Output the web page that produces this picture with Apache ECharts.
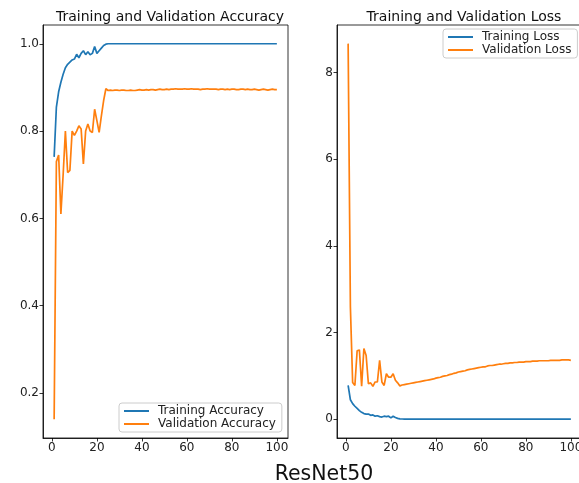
<!DOCTYPE html>
<html>
<head>
<meta charset="utf-8">
<script src="https://cdn.jsdelivr.net/npm/echarts@6/dist/echarts.min.js"></script>
<style>
  html, body { margin: 0; padding: 0; background: #fff; }
  #main { width: 579px; height: 483px; }
</style>
</head>
<body>
<div id="main"></div>
<script>
// values, one per epoch (1..100)
var trainAcc = [0.741, 0.855, 0.89, 0.912, 0.93, 0.945, 0.953, 0.958, 0.963, 0.965,
    0.976, 0.968, 0.978, 0.984, 0.975, 0.982, 0.975, 0.978, 0.994, 0.978,
    0.984, 0.99, 0.996, 0.999, 1.0, 1.0, 1.0, 1.0, 1.0, 1.0,
    1.0, 1.0, 1.0, 1.0, 1.0, 1.0, 1.0, 1.0, 1.0, 1.0,
    1.0, 1.0, 1.0, 1.0, 1.0, 1.0, 1.0, 1.0, 1.0, 1.0,
    1.0, 1.0, 1.0, 1.0, 1.0, 1.0, 1.0, 1.0, 1.0, 1.0,
    1.0, 1.0, 1.0, 1.0, 1.0, 1.0, 1.0, 1.0, 1.0, 1.0,
    1.0, 1.0, 1.0, 1.0, 1.0, 1.0, 1.0, 1.0, 1.0, 1.0,
    1.0, 1.0, 1.0, 1.0, 1.0, 1.0, 1.0, 1.0, 1.0, 1.0,
    1.0, 1.0, 1.0, 1.0, 1.0, 1.0, 1.0, 1.0, 1.0, 1.0];

var valAcc = [0.14, 0.73, 0.745, 0.61, 0.70, 0.80, 0.705, 0.71, 0.80, 0.79,
    0.80, 0.812, 0.805, 0.725, 0.80, 0.816, 0.80, 0.797, 0.85, 0.824,
    0.797, 0.835, 0.87, 0.897, 0.893, 0.894, 0.893, 0.894, 0.894, 0.893,
    0.894, 0.894, 0.893, 0.893, 0.894, 0.893, 0.893, 0.894, 0.895, 0.894,
    0.894, 0.895, 0.894, 0.895, 0.895, 0.894, 0.895, 0.896, 0.895, 0.895,
    0.896, 0.895, 0.896, 0.896, 0.897, 0.896, 0.896, 0.896, 0.897, 0.896,
    0.896, 0.897, 0.896, 0.896, 0.896, 0.895, 0.896, 0.896, 0.897, 0.896,
    0.896, 0.896, 0.896, 0.895, 0.896, 0.896, 0.895, 0.896, 0.895, 0.896,
    0.896, 0.895, 0.895, 0.896, 0.896, 0.895, 0.896, 0.895, 0.895, 0.896,
    0.895, 0.894, 0.895, 0.896, 0.895, 0.894, 0.895, 0.896, 0.895, 0.895];

var trainLoss = [0.78, 0.45, 0.36, 0.30, 0.25, 0.20, 0.16, 0.13, 0.12, 0.12,
    0.09, 0.10, 0.07, 0.08, 0.06, 0.05, 0.07, 0.06, 0.07, 0.03,
    0.07, 0.04, 0.02, 0.008, 0.005, 0.004, 0.004, 0.003, 0.003, 0.003,
    0.003, 0.002, 0.002, 0.002, 0.002, 0.002, 0.002, 0.002, 0.002, 0.002,
    0.002, 0.002, 0.001, 0.001, 0.001, 0.001, 0.001, 0.001, 0.001, 0.001,
    0.001, 0.001, 0.001, 0.001, 0.001, 0.001, 0.001, 0.001, 0.001, 0.001,
    0.001, 0.001, 0.001, 0.001, 0.001, 0.001, 0.001, 0.001, 0.001, 0.001,
    0.001, 0.001, 0.001, 0.001, 0.001, 0.001, 0.001, 0.001, 0.001, 0.001,
    0.001, 0.001, 0.001, 0.001, 0.001, 0.001, 0.001, 0.001, 0.001, 0.001,
    0.001, 0.001, 0.001, 0.001, 0.001, 0.001, 0.001, 0.001, 0.001, 0.001];

var valLoss = [8.67, 2.6, 0.85, 0.78, 1.58, 1.6, 0.76, 1.63, 1.47, 0.82,
    0.84, 0.76, 0.86, 0.86, 1.36, 0.86, 0.78, 1.05, 0.97, 0.97,
    1.05, 0.90, 0.84, 0.77, 0.79, 0.80, 0.81, 0.82, 0.83, 0.84,
    0.85, 0.86, 0.87, 0.88, 0.89, 0.90, 0.91, 0.92, 0.93, 0.95,
    0.96, 0.97, 0.99, 1.00, 1.01, 1.03, 1.04, 1.06, 1.07, 1.09,
    1.10, 1.11, 1.12, 1.14, 1.15, 1.16, 1.17, 1.18, 1.19, 1.20,
    1.21, 1.21, 1.23, 1.24, 1.24, 1.25, 1.26, 1.27, 1.27, 1.28,
    1.29, 1.29, 1.30, 1.30, 1.31, 1.31, 1.32, 1.32, 1.32, 1.33,
    1.33, 1.33, 1.34, 1.34, 1.34, 1.35, 1.35, 1.35, 1.35, 1.35,
    1.36, 1.36, 1.36, 1.36, 1.36, 1.37, 1.37, 1.37, 1.37, 1.36];

var xTicks = [0, 20, 40, 60, 80, 100];
var accTicks = [0.2, 0.4, 0.6, 0.8, 1.0];
var lossTicks = [0, 2, 4, 6, 8];

function pairs(arr) {
    return arr.map(function (v, i) { return [i + 1, v]; });
}

var font = 'DejaVu Sans';
var blue = '#1f77b4', orange = '#ff7f0e';

function xAxisCfg(grid) {
    return {
        type: 'value', gridIndex: grid, min: -3.95, max: 104.95,
        splitLine: { show: false },
        axisLine: { show: true, onZero: false, lineStyle: { color: '#000', width: 0.8 } },
        axisTick: { show: true, inside: false, customValues: xTicks, length: 3.5, lineStyle: { color: '#000', width: 0.8 } },
        axisLabel: { customValues: xTicks, margin: 4, fontFamily: font, fontSize: 12, color: '#222' }
    };
}

function yAxisCfg(grid, min, max, ticks, digits) {
    return {
        type: 'value', gridIndex: grid, min: min, max: max,
        splitLine: { show: false },
        axisLine: { show: true, onZero: false, lineStyle: { color: '#000', width: 0.8 } },
        axisTick: { show: true, inside: false, customValues: ticks, length: 3.5, lineStyle: { color: '#000', width: 0.8 } },
        axisLabel: {
            customValues: ticks, margin: 4, fontFamily: font, fontSize: 12, color: '#222',
            formatter: function (v) { return v.toFixed(digits); }
        }
    };
}

function legendCfg(names, left, top) {
    return {
        data: names, orient: 'vertical', left: left, top: top,
        icon: 'rect', itemWidth: 25, itemHeight: 2, itemGap: 1,
        padding: [2, 6, 2, 5],
        backgroundColor: 'rgba(255,255,255,0.8)',
        borderColor: '#cccccc', borderWidth: 1, borderRadius: 3,
        textStyle: { fontFamily: font, fontSize: 12, color: '#222', padding: [0, 0, 0, 4] }
    };
}

function lineSeries(name, arr, color, idx) {
    return {
        name: name, type: 'line', data: pairs(arr),
        xAxisIndex: idx, yAxisIndex: idx,
        showSymbol: false, symbol: 'none',
        itemStyle: { color: color },
        lineStyle: { color: color, width: 1.7 }
    };
}

var myChart = echarts.init(document.getElementById('main'));

var option = {
    animation: false,
    title: [
        { text: 'Training and Validation Accuracy', left: 165, top: 5, textAlign: 'center',
          textStyle: { fontFamily: font, fontSize: 14, fontWeight: 'normal', color: '#111' } },
        { text: 'Training and Validation Loss', left: 459, top: 5, textAlign: 'center',
          textStyle: { fontFamily: font, fontSize: 14, fontWeight: 'normal', color: '#111' } },
        { text: 'ResNet50', left: 319, top: 459, textAlign: 'center',
          textStyle: { fontFamily: font, fontSize: 20.5, fontWeight: 'normal', color: '#111' } }
    ],
    legend: [
        legendCfg(['Training Accuracy', 'Validation Accuracy'], 119, 403),
        legendCfg(['Training Loss', 'Validation Loss'], 443, 29)
    ],
    grid: [
        { left: 43, top: 25, width: 245, height: 413, show: true, borderColor: '#000', borderWidth: 0.8, outerBoundsMode: 'none' },
        { left: 337, top: 25, width: 245, height: 413, show: true, borderColor: '#000', borderWidth: 0.8, outerBoundsMode: 'none' }
    ],
    xAxis: [xAxisCfg(0), xAxisCfg(1)],
    yAxis: [
        yAxisCfg(0, 0.097, 1.043, accTicks, 1),
        yAxisCfg(1, -0.433, 9.10, lossTicks, 0)
    ],
    series: [
        lineSeries('Training Accuracy', trainAcc, blue, 0),
        lineSeries('Validation Accuracy', valAcc, orange, 0),
        lineSeries('Training Loss', trainLoss, blue, 1),
        lineSeries('Validation Loss', valLoss, orange, 1)
    ]
};

myChart.setOption(option);
</script>
</body>
</html>
